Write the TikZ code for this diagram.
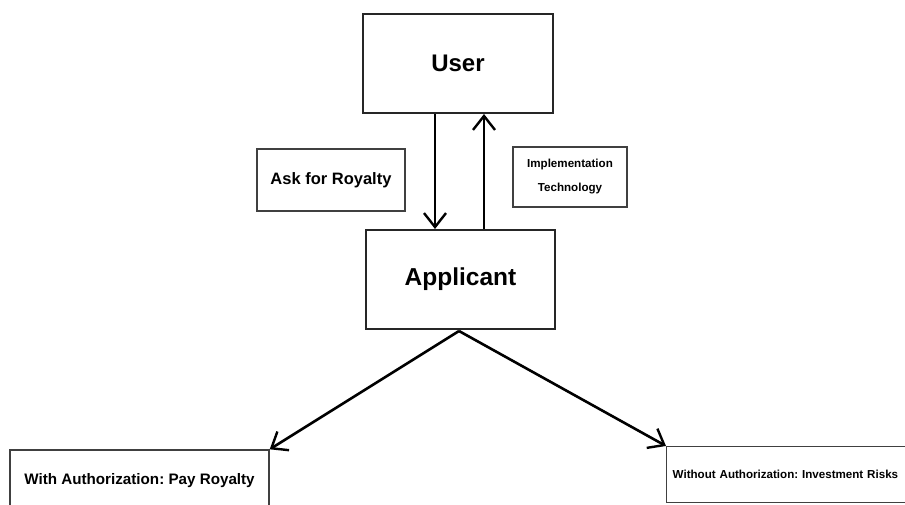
\documentclass[tikz,border=0pt]{standalone}
\usepackage{fontspec}
\setmainfont{Liberation Sans}
\usetikzlibrary{arrows.meta}
\begin{document}
\frenchspacing
\begin{tikzpicture}[x=1pt,y=-1pt,
  bigbox/.style={draw=black!85,line width=2pt,inner sep=0pt,font=\bfseries},
  smallbox/.style={draw=black!75,line width=1.4pt,inner sep=0pt,font=\bfseries,align=center},
  arr/.style={line width=2.6pt,black,-{Straight Barb[length=14pt,width=22pt,line width=2.4pt]}}]
\useasboundingbox (0,0) rectangle (905,504);
\clip (0,0) rectangle (905,504);
\node[bigbox,minimum width=190pt,minimum height=99pt,font=\bfseries\fontsize{24}{28}\selectfont] (user) at (458,63.5) {User};
\node[bigbox,minimum width=189pt,minimum height=99pt,font=\bfseries\fontsize{24.5}{28}\selectfont] (applicant) at (460.5,279.5) {Applicant};
\node[smallbox,minimum width=148pt,minimum height=62pt,font=\bfseries\fontsize{16.5}{19}\selectfont] (ask) at (331,180) {Ask for Royalty};
\node[smallbox,minimum width=114pt,minimum height=60pt,font=\bfseries\fontsize{11.6}{24}\selectfont] (impl) at (570,177) {Implementation\\Technology};
\node[smallbox,minimum width=259pt,minimum height=62pt,font=\bfseries\fontsize{15.2}{18}\selectfont] (withauth) at (139.5,481) {With Authorization: Pay Royalty};
\node[smallbox,anchor=north west,minimum height=56pt,text width=290pt,inner xsep=6pt,align=left,font=\bfseries\fontsize{11.6}{14}\selectfont] (withoutauth) at (666,446) {Without Authorization: Investment Risks};
\coordinate (dx) at (435,0);
\coordinate (ux) at (484,0);
\draw[arr] (dx |- user.south) -- (dx |- applicant.north);
\draw[arr] (ux |- applicant.north) -- (ux |- user.south);
\coordinate (apex) at (459,331);
\draw[arr] (apex) -- (withauth.north east);
\draw[arr] (apex) -- (withoutauth.north west);
\end{tikzpicture}
\end{document}
